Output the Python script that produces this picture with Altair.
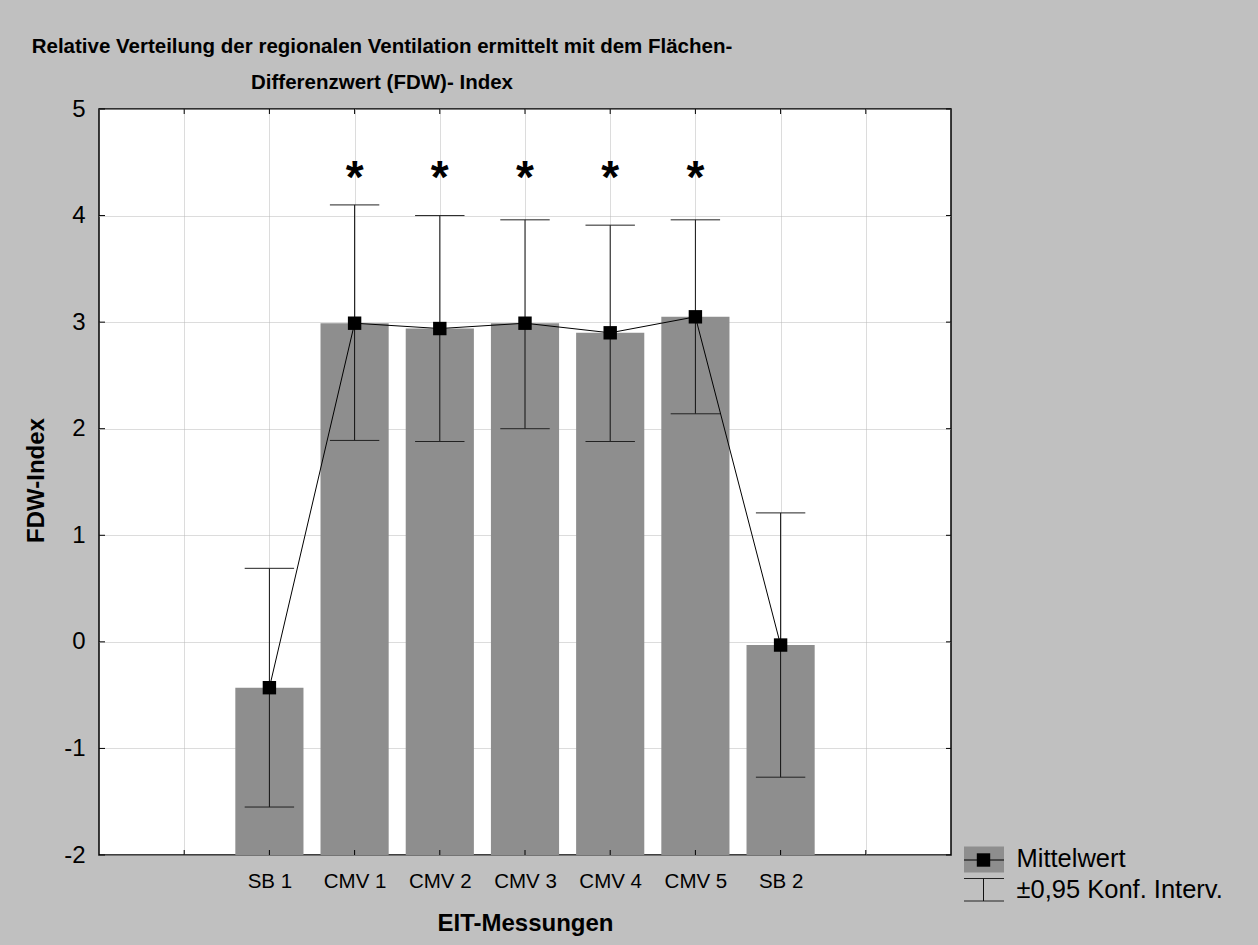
import json

import altair as alt
import pandas as pd

# Messzeitpunkte und FDW-Index (Mittelwert mit 95%-Konfidenzintervall)
categories = ["SB 1", "CMV 1", "CMV 2", "CMV 3", "CMV 4", "CMV 5", "SB 2"]
means = [-0.43, 2.99, 2.94, 2.99, 2.90, 3.05, -0.03]
ci_low = [-1.55, 1.89, 1.88, 2.00, 1.88, 2.14, -1.27]
ci_high = [0.69, 4.10, 4.00, 3.96, 3.91, 3.96, 1.21]
significant = [False, True, True, True, True, True, False]

x_ticks = list(range(0, 9))
y_ticks = list(range(-2, 6))
legend_labels = ["Mittelwert", "±0,95 Konf. Interv."]
title_lines = [
    "Relative Verteilung der regionalen Ventilation ermittelt mit dem Flächen-",
    "Differenzwert (FDW)- Index",
]
x_title = "EIT-Messungen"
y_title = "FDW-Index"

W, H = 852, 746
FONT = "Liberation Sans, Arial, Helvetica, sans-serif"
BAR_GREY = "#8e8e8e"
GRID_GREY = "#b8b8b8"

df = pd.DataFrame({
    "kategorie": categories,
    "pos": range(1, len(categories) + 1),
    "mittelwert": means,
    "unten": ci_low,
    "oben": ci_high,
    "sig": significant,
})

x_scale = alt.Scale(domain=[-1, 9], nice=False, zero=False)
y_scale = alt.Scale(domain=[-2, 5], nice=False, zero=False)

label_expr = (
    f"datum.value >= 1 && datum.value <= {len(categories)} ? "
    f"{json.dumps(categories)}[datum.value - 1] : ''"
)

x_axis = alt.Axis(
    values=x_ticks, labelExpr=label_expr, grid=True, gridColor=GRID_GREY,
    gridDash=[1, 1], ticks=False, tickSize=0, domain=False,
    labelFont=FONT, labelFontSize=20.5, labelColor="#000", labelPadding=16,
    titleFont=FONT, titleFontSize=24, titleFontWeight="bold", titleColor="#000",
    titleX=W / 2, titleY=68.5, titleBaseline="middle", titleAlign="center",
)
y_axis = alt.Axis(
    values=y_ticks, labelExpr="'' + datum.value", grid=True, gridColor=GRID_GREY,
    gridDash=[1, 1], ticks=False, tickSize=0, domain=False,
    labelFont=FONT, labelFontSize=24, labelColor="#000", labelPadding=14,
    titleFont=FONT, titleFontSize=24, titleFontWeight="bold", titleColor="#000",
    titleX=-63, titleY=H / 2 - 2, titleBaseline="middle", titleAlign="center",
    titleAngle=270,
)

base = alt.Chart(df)

bars = base.transform_calculate(
    x0="datum.pos - 0.4", x1="datum.pos + 0.4"
).mark_bar(color=BAR_GREY).encode(
    x=alt.X("x0:Q", scale=x_scale, axis=x_axis, title=x_title),
    x2="x1:Q",
    y=alt.Y("mittelwert:Q", scale=y_scale, axis=y_axis, title=y_title),
    y2=alt.datum(-2),
)

whisker = base.mark_rule(color="#111", strokeWidth=1).encode(
    x=alt.X("pos:Q", scale=x_scale, title=x_title),
    y=alt.Y("unten:Q", scale=y_scale, title=y_title),
    y2="oben:Q",
)

caps = []
for field in ["oben", "unten"]:
    caps.append(
        base.transform_calculate(
            c0="datum.pos - 0.29", c1="datum.pos + 0.29"
        ).mark_rule(color="#222", strokeWidth=1).encode(
            x=alt.X("c0:Q", scale=x_scale, title=x_title),
            x2="c1:Q",
            y=alt.Y(f"{field}:Q", scale=y_scale, title=y_title),
        )
    )

mean_line = base.mark_line(color="#000", strokeWidth=1).encode(
    x=alt.X("pos:Q", scale=x_scale, title=x_title),
    y=alt.Y("mittelwert:Q", scale=y_scale, title=y_title),
)

mean_points = base.mark_square(size=180, color="#000", opacity=1).encode(
    x=alt.X("pos:Q", scale=x_scale, title=x_title),
    y=alt.Y("mittelwert:Q", scale=y_scale, title=y_title),
)

stars = base.transform_filter("datum.sig").mark_text(
    text="*", font=FONT, fontSize=46, fontWeight="bold", color="#000",
    baseline="middle", align="center", dy=8,
).encode(
    x=alt.X("pos:Q", scale=x_scale, title=x_title),
    y=alt.datum(4.42),
)

# Innenliegende Teilstriche an allen vier Rahmenseiten
yt = alt.Chart(pd.DataFrame({"v": y_ticks}))
xt = alt.Chart(pd.DataFrame({"v": x_ticks}))
tick_left = yt.mark_rule(color="#000").encode(
    y=alt.Y("v:Q", scale=y_scale, title=y_title), x=alt.value(0), x2=alt.value(6))
tick_right = yt.mark_rule(color="#000").encode(
    y=alt.Y("v:Q", scale=y_scale, title=y_title), x=alt.value(W - 5), x2=alt.value(W))
tick_bottom = xt.mark_rule(color="#000").encode(
    x=alt.X("v:Q", scale=x_scale, title=x_title), y=alt.value(H - 5), y2=alt.value(H))
tick_top = xt.mark_rule(color="#000").encode(
    x=alt.X("v:Q", scale=x_scale, title=x_title), y=alt.value(0), y2=alt.value(5))

# Legende rechts unten
leg1 = alt.Chart(pd.DataFrame({"label": [legend_labels[0]]}))
leg2 = alt.Chart(pd.DataFrame({"label": [legend_labels[1]]}))
leg_box = leg1.mark_rect(color=BAR_GREY).encode(
    x=alt.value(865), x2=alt.value(905), y=alt.value(737.5), y2=alt.value(763.5))
leg_line = leg1.mark_rule(color="#000").encode(
    x=alt.value(865), x2=alt.value(905), y=alt.value(751))
leg_square = leg1.mark_square(size=180, color="#000", opacity=1).encode(
    x=alt.value(884.5), y=alt.value(751))
leg_text1 = leg1.mark_text(
    font=FONT, fontSize=25.5, color="#000", align="left", baseline="alphabetic"
).encode(x=alt.value(917.5), y=alt.value(758), text="label:N")
leg_cap_top = leg2.mark_rule(color="#222").encode(
    x=alt.value(865), x2=alt.value(905), y=alt.value(769.5))
leg_cap_bot = leg2.mark_rule(color="#222").encode(
    x=alt.value(865), x2=alt.value(905), y=alt.value(792))
leg_stem = leg2.mark_rule(color="#111").encode(
    x=alt.value(884.5), y=alt.value(769.5), y2=alt.value(792))
leg_text2 = leg2.mark_text(
    font=FONT, fontSize=25.5, color="#000", align="left", baseline="alphabetic"
).encode(x=alt.value(917.5), y=alt.value(789), text="label:N")

chart = alt.layer(
    bars, whisker, *caps, mean_line, mean_points, stars,
    tick_left, tick_right, tick_bottom, tick_top,
    leg_box, leg_line, leg_square, leg_text1,
    leg_cap_top, leg_cap_bot, leg_stem, leg_text2,
).properties(
    width=W,
    height=H,
    autosize=alt.AutoSizeParams(type="none"),
    padding={"left": 99, "top": 109, "right": 1258 - 99 - W, "bottom": 945 - 109 - H},
    background="#c0c0c0",
    title=alt.TitleParams(
        text=title_lines, font=FONT, fontSize=20.5, fontWeight="bold",
        color="#000", anchor="middle", frame="group", dx=-143, offset=-16,
        lineHeight=36, baseline="bottom",
    ),
).configure_view(
    stroke="#000", strokeWidth=1.5, fill="white",
)

chart.save("out.html", embed_options={"renderer": "svg", "actions": False})
